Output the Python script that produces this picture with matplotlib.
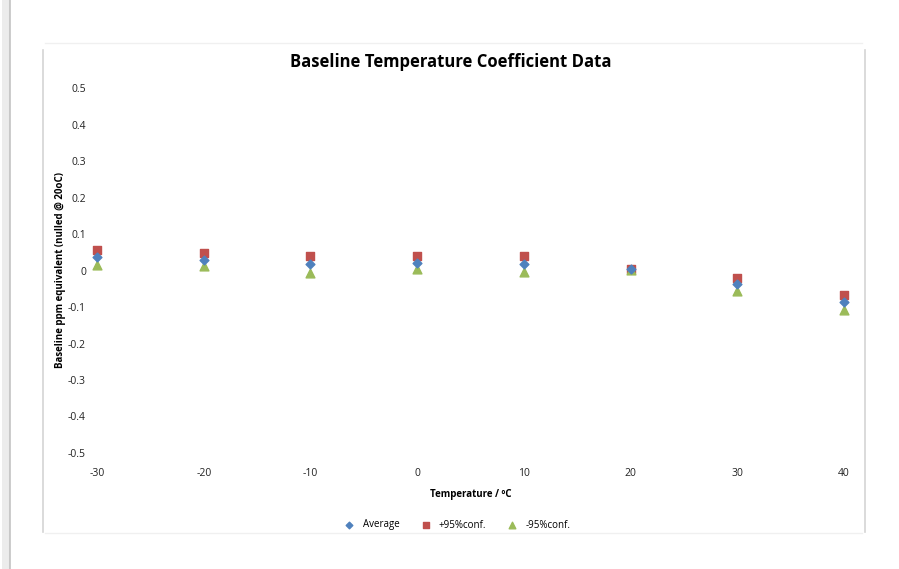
import numpy as np
import matplotlib.pyplot as plt
from matplotlib.lines import Line2D

plt.rcParams['font.family'] = ['Open Sans', 'DejaVu Sans']
plt.rcParams['axes.unicode_minus'] = False

# data
temps = [-30, -20, -10, 0, 10, 20, 30, 40]
average = [0.036, 0.030, 0.017, 0.021, 0.019, 0.003, -0.037, -0.087]
upper95 = [0.056, 0.048, 0.041, 0.041, 0.041, 0.004, -0.020, -0.068]
lower95 = [0.016, 0.011, -0.008, 0.003, -0.003, 0.002, -0.056, -0.108]

W, H = 899, 569
fig = plt.figure(figsize=(W / 100, H / 100), dpi=100)

# page shadow on the left + chart frame
fig.add_artist(Line2D([9 / W, 9 / W], [0, 1], color="#c8c8c8", lw=2))
fig.add_artist(Line2D([5 / W, 5 / W], [0, 1], color="#ececec", lw=5))
fc = "#d4d4d4"
fig.add_artist(Line2D([43 / W, 43 / W], [1 - 50 / H, 1 - 532 / H], color=fc, lw=1.2))
fig.add_artist(Line2D([865 / W, 865 / W], [1 - 50 / H, 1 - 532 / H], color=fc, lw=1.2))
fig.add_artist(Line2D([45 / W, 862 / W], [1 - 533 / H, 1 - 533 / H], color="#f0f0f0", lw=1))
fig.add_artist(Line2D([45 / W, 862 / W], [1 - 43 / H, 1 - 43 / H], color="#f0f0f0", lw=1))

ax = fig.add_axes([97 / W, 1 - 453 / H, (844 - 97) / W, (453 - 88) / H])
ax.scatter(temps, average, marker="D", s=20, color="#4f81bd", label="Average", zorder=3, clip_on=False)
ax.scatter(temps, upper95, marker="s", s=40, color="#c0504d", label="+95%conf.", zorder=2, clip_on=False)
ax.scatter(temps, lower95, marker="^", s=40, color="#9bbb59", label="-95%conf.", zorder=2, clip_on=False)

ax.set_xlim(-30, 40)
ax.set_ylim(-0.5, 0.5)
ax.set_xticks(np.arange(-30, 41, 10))
ax.set_yticks(np.arange(-0.5, 0.51, 0.1))
ax.set_yticklabels(["-0.5", "-0.4", "-0.3", "-0.2", "-0.1", "0", "0.1", "0.2", "0.3", "0.4", "0.5"])
for s in ax.spines.values():
    s.set_visible(False)
ax.tick_params(length=0, labelsize=7.5, colors="#222222")
ax.tick_params(axis="y", pad=8)
ax.tick_params(axis="x", pad=11)

ax.set_xlabel("Temperature / ºC", fontsize=7, fontweight="bold", labelpad=7)
ax.set_ylabel("Baseline ppm equivalent (nulled @ 20oC)", fontsize=7, fontweight="bold", labelpad=1)
fig.text(451 / W, 1 - 62 / H, "Baseline Temperature Coefficient Data", ha="center", va="center",
         fontsize=12, fontweight="bold")

ax.legend(loc="center", bbox_to_anchor=(0.482, (453 - 525) / (453 - 88)), ncol=3, frameon=False,
          fontsize=7, handletextpad=0.75, columnspacing=2.1, markerscale=0.75, handlelength=1.2)

plt.savefig("out.png", dpi=100)
